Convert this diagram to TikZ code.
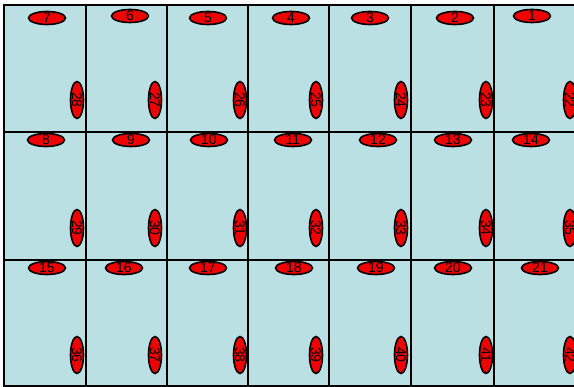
\documentclass[tikz,border=0pt]{standalone}
\usepackage{fontspec}
\setmainfont{Liberation Sans}
\usetikzlibrary{shapes.geometric}
\definecolor{cellblue}{RGB}{187, 224, 227}
\definecolor{markred}{RGB}{240, 0, 0}

\tikzset{
  cell/.style={draw=black, fill=cellblue, line width=2pt},
  topmark/.style={ellipse, draw=black, fill=markred, line width=1.6pt,
    minimum width=37pt, minimum height=13pt, inner sep=0pt},
  sidemark/.style={ellipse, draw=black, fill=markred, line width=1.6pt,
    minimum width=13pt, minimum height=37pt, inner sep=0pt},
  toptext/.style={font=\fontsize{14}{14}\selectfont},
  sidetext/.style={font=\fontsize{14}{14}\selectfont, rotate=-90}
}

\begin{document}
\begin{tikzpicture}[x=1pt, y=-1pt]
    \useasboundingbox (0,0) rectangle (574,387);
    
    % Cells
    \draw[cell] (4,5) rectangle (86,132);
    \draw[cell] (86,5) rectangle (167,132);
    \draw[cell] (167,5) rectangle (248,132);
    \draw[cell] (248,5) rectangle (329,132);
    \draw[cell] (329,5) rectangle (411,132);
    \draw[cell] (411,5) rectangle (494,132);
    \draw[cell] (494,5) rectangle (580,132);
    
    \draw[cell] (4,132) rectangle (86,260);
    \draw[cell] (86,132) rectangle (167,260);
    \draw[cell] (167,132) rectangle (248,260);
    \draw[cell] (248,132) rectangle (329,260);
    \draw[cell] (329,132) rectangle (411,260);
    \draw[cell] (411,132) rectangle (494,260);
    \draw[cell] (494,132) rectangle (580,260);
    
    \draw[cell] (4,260) rectangle (86,386);
    \draw[cell] (86,260) rectangle (167,386);
    \draw[cell] (167,260) rectangle (248,386);
    \draw[cell] (248,260) rectangle (329,386);
    \draw[cell] (329,260) rectangle (411,386);
    \draw[cell] (411,260) rectangle (494,386);
    \draw[cell] (494,260) rectangle (580,386);
    
    % Top marks, row 1
    \node[topmark, label={[toptext]center:7}] (t7) at (47,18) {};
    \node[topmark, label={[toptext]center:6}] (t6) at (130,16) {};
    \node[topmark, label={[toptext]center:5}] (t5) at (208,18) {};
    \node[topmark, label={[toptext]center:4}] (t4) at (291,18) {};
    \node[topmark, label={[toptext]center:3}] (t3) at (370,18) {};
    \node[topmark, label={[toptext]center:2}] (t2) at (455,18) {};
    \node[topmark, label={[toptext]center:1}] (t1) at (532,16) {};
    
    % Top marks, row 2
    \node[topmark, label={[toptext]center:8}] (t8) at (46,140) {};
    \node[topmark, label={[toptext]center:9}] (t9) at (131,140) {};
    \node[topmark, label={[toptext]center:10}] (t10) at (209,140) {};
    \node[topmark, label={[toptext]center:11}] (t11) at (293,140) {};
    \node[topmark, label={[toptext]center:12}] (t12) at (378,140) {};
    \node[topmark, label={[toptext]center:13}] (t13) at (453,140) {};
    \node[topmark, label={[toptext]center:14}] (t14) at (531,140) {};
    
    % Top marks, row 3
    \node[topmark, label={[toptext]center:15}] (t15) at (47,268) {};
    \node[topmark, label={[toptext]center:16}] (t16) at (124,268) {};
    \node[topmark, label={[toptext]center:17}] (t17) at (208,268) {};
    \node[topmark, label={[toptext]center:18}] (t18) at (294,268) {};
    \node[topmark, label={[toptext]center:19}] (t19) at (376,268) {};
    \node[topmark, label={[toptext]center:20}] (t20) at (453,268) {};
    \node[topmark, label={[toptext]center:21}] (t21) at (540,268) {};
    
    % Side marks, row 1
    \node[sidemark, label={[sidetext]center:28}] (s28) at (77,100) {};
    \node[sidemark, label={[sidetext]center:27}] (s27) at (155,100) {};
    \node[sidemark, label={[sidetext]center:26}] (s26) at (240,100) {};
    \node[sidemark, label={[sidetext]center:25}] (s25) at (316,100) {};
    \node[sidemark, label={[sidetext]center:24}] (s24) at (401,100) {};
    \node[sidemark, label={[sidetext]center:23}] (s23) at (486,100) {};
    \node[sidemark, label={[sidetext]center:22}] (s22) at (570,100) {};
    
    % Side marks, row 2
    \node[sidemark, label={[sidetext]center:29}] (s29) at (77,228) {};
    \node[sidemark, label={[sidetext]center:30}] (s30) at (155,228) {};
    \node[sidemark, label={[sidetext]center:31}] (s31) at (240,228) {};
    \node[sidemark, label={[sidetext]center:32}] (s32) at (316,228) {};
    \node[sidemark, label={[sidetext]center:33}] (s33) at (401,228) {};
    \node[sidemark, label={[sidetext]center:34}] (s34) at (486,228) {};
    \node[sidemark, label={[sidetext]center:35}] (s35) at (570,228) {};
    
    % Side marks, row 3
    \node[sidemark, label={[sidetext]center:36}] (s36) at (77,355) {};
    \node[sidemark, label={[sidetext]center:37}] (s37) at (155,355) {};
    \node[sidemark, label={[sidetext]center:38}] (s38) at (240,355) {};
    \node[sidemark, label={[sidetext]center:39}] (s39) at (316,355) {};
    \node[sidemark, label={[sidetext]center:40}] (s40) at (401,355) {};
    \node[sidemark, label={[sidetext]center:41}] (s41) at (486,355) {};
    \node[sidemark, label={[sidetext]center:42}] (s42) at (570,355) {};
\end{tikzpicture}
\end{document}
